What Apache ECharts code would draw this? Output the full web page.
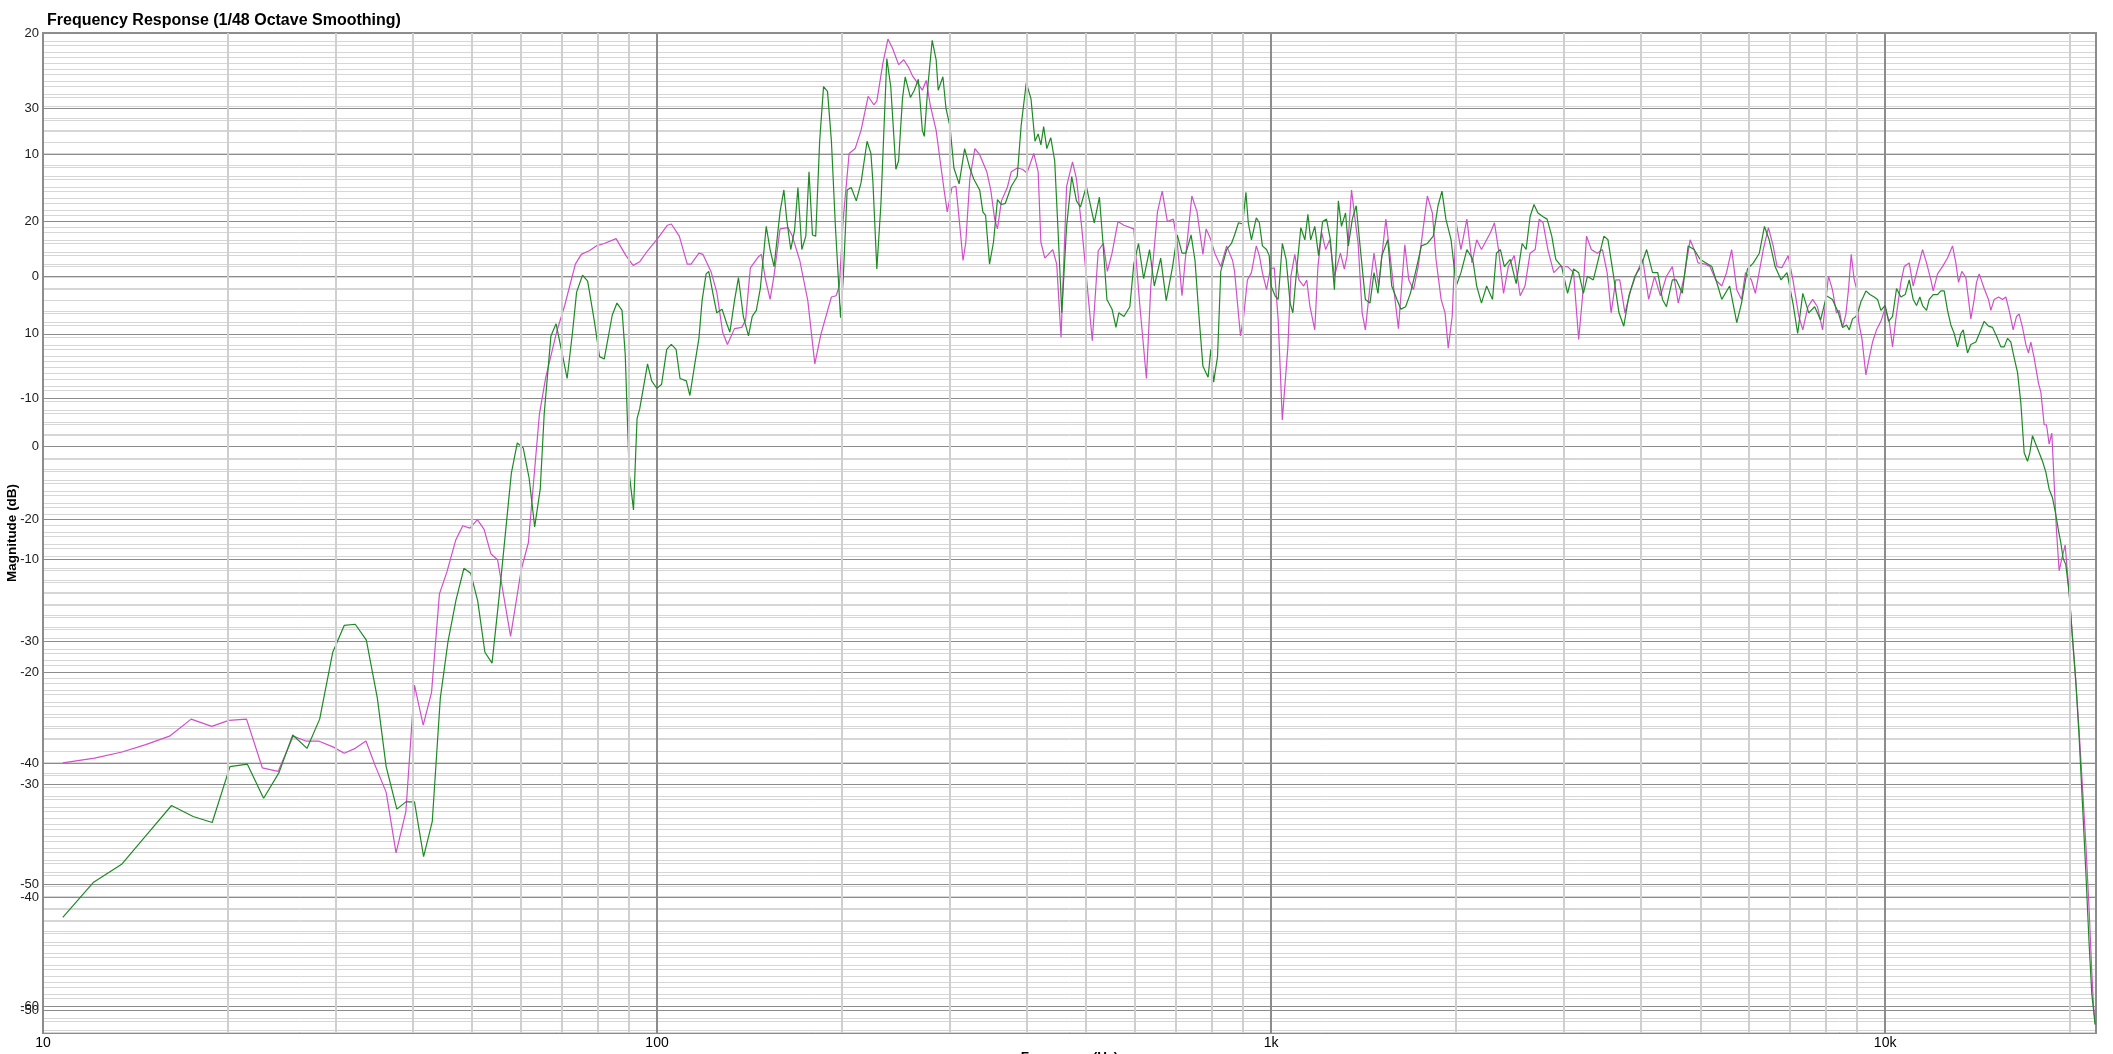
<!DOCTYPE html>
<html>
<head>
<meta charset="utf-8">
<title>Frequency Response</title>
<script src="https://cdn.jsdelivr.net/npm/echarts@6/dist/echarts.min.js"></script>
<style>
  html, body { margin: 0; padding: 0; background: #ffffff; }
  #chart { width: 2113px; height: 1054px; }
</style>
</head>
<body>
<div id="chart"></div>
<script>
// magenta trace (Hz / dB)
const magentaFreq = [
  10.77, 12.13, 13.45, 14.7, 16.07, 17.43, 18.83, 20.07, 21.45, 22.76, 24.15, 25.55, 26.79, 28.1, 29.72, 30.94,
  32.25, 33.57, 34.74, 36.21, 37.58, 38.99, 40.27, 41.61, 42.93, 44.22, 45.48, 46.99, 48.26, 49.57, 50.98, 52.28,
  53.62, 54.99, 57.74, 60.1, 61.72, 64.34, 65.88, 68.68, 70.73, 73.62, 75.28, 77.53, 79.63, 82.03, 85.76, 89,
  91.41, 93.73, 96.5, 100.2, 104, 105.5, 108.7, 112, 113.6, 117, 118.8, 122.4, 125.1, 127.9, 130.2, 133.7,
  137.4, 139.4, 141.9, 146.2, 147.9, 150.1, 152.8, 155.1, 158.6, 163.4, 165.8, 170.8, 176, 180.7, 184.8, 192.3,
  195.7, 198.1, 201, 205.5, 210.2, 214.9, 220.7, 225.4, 228, 233.2, 237.7, 242, 247.4, 252.2, 256.7, 260.5,
  266.4, 270.4, 274.4, 278.5, 284.8, 289.1, 293.4, 296.9, 302.2, 306.7, 311.3, 315, 318.3, 323.1, 329.3, 335.3,
  344.3, 349.5, 354.7, 358.4, 363.8, 371.9, 377.5, 386, 393.5, 400.5, 410.7, 417.5, 421.8, 428.1, 441, 447.6,
  454.9, 464.5, 474.9, 482, 491.4, 501.7, 511.5, 523, 533.2, 541.2, 550.8, 563.2, 575.9, 597.6, 611, 626.6,
  637, 653.1, 664.8, 677.8, 693, 703.4, 716, 724.6, 743, 757.5, 774.5, 783.8, 797.8, 809.7, 828, 846.5,
  865.6, 872, 891.6, 902.2, 915, 929, 946, 957, 968, 983, 997, 1012, 1027, 1043, 1065, 1077,
  1093, 1110, 1130, 1143, 1157, 1178, 1192, 1209, 1227, 1246, 1268, 1297, 1316, 1330, 1352, 1370,
  1386, 1407, 1424, 1449, 1471, 1497, 1519, 1538, 1561, 1589, 1612, 1651, 1676, 1706, 1736, 1762,
  1797, 1831, 1856, 1892, 1920, 1943, 1972, 2002, 2038, 2084, 2124, 2162, 2201, 2244, 2277, 2311,
  2346, 2391, 2434, 2489, 2545, 2591, 2641, 2692, 2733, 2773, 2823, 2887, 2951, 3040, 3109, 3169,
  3216, 3264, 3323, 3398, 3464, 3526, 3579, 3643, 3697, 3769, 3854, 3941, 4029, 4120, 4212, 4307,
  4404, 4503, 4604, 4708, 4813, 4885, 4958, 5092, 5184, 5300, 5419, 5517, 5624, 5733, 5836, 5923,
  6057, 6147, 6332, 6455, 6571, 6669, 6789, 6952, 7077, 7236, 7344, 7487, 7621, 7758, 7909, 8086,
  8207, 8330, 8419, 8525, 8632, 8719, 8806, 8906, 8984, 9052, 9165, 9304, 9421, 9539, 9683, 9842,
  10003, 10154, 10282, 10411, 10608, 10742, 10945, 11110, 11292, 11506, 11679, 11871, 11975, 12171, 12401, 12636,
  12875, 13037, 13168, 13333, 13535, 13791, 13965, 14087, 14229, 14498, 14735, 14865, 15052, 15298, 15529, 15724,
  15922, 16163, 16366, 16530, 16738, 16949, 17119, 17269, 17486, 17773, 17929, 18155, 18314, 18498, 18684, 18848,
  19013, 19204, 19397, 19641, 19814, 19988, 20188, 20442, 20699, 20960, 21223, 21490, 21706, 21842, 21979
];
const magentaDb = [
  -40.0, -39.6, -39.1, -38.5, -37.8, -36.4, -37.0, -36.5, -36.4, -40.4, -40.7, -37.8, -38.2, -38.2, -38.7, -39.2,
  -38.8, -38.2, -40.2, -42.4, -47.4, -44.0, -33.6, -36.9, -34.2, -26.1, -24.3, -21.7, -20.5, -20.7, -20.0, -20.8,
  -22.8, -23.3, -29.6, -24.1, -21.9, -11.3, -8.3, -4.5, -2.4, 1.0, 1.8, 2.1, 2.5, 2.7, 3.1, 1.7,
  0.9, 1.2, 2.1, 3.1, 4.2, 4.3, 3.3, 1.0, 1.0, 1.9, 1.8, 0.4, -1.3, -4.6, -5.6, -4.3,
  -4.2, -3.6, 0.7, 1.6, 1.8, -0.2, -1.9, 0.1, 3.9, 4.0, 3.4, 1.3, -2.0, -7.2, -4.8, -1.7,
  -1.6, -0.8, 4.7, 10.1, 10.5, 12.0, 14.8, 14.1, 14.4, 17.5, 19.5, 18.7, 17.4, 17.8, 17.2, 16.5,
  15.8, 15.3, 16.1, 14.1, 12.0, 9.5, 7.1, 5.3, 7.3, 7.4, 4.1, 1.3, 2.8, 8.0, 10.5, 10.0,
  8.6, 7.1, 4.7, 3.9, 6.2, 7.3, 8.6, 8.9, 8.8, 8.5, 10.1, 8.6, 2.8, 1.5, 2.2, 1.0,
  -5.0, 7.4, 9.4, 8.0, 4.1, -0.7, -5.3, 2.1, 2.7, 0.4, 1.9, 4.5, 4.2, 3.9, -2.3, -8.4,
  -0.8, 5.3, 7.0, 4.5, 4.7, 2.8, -1.6, 1.3, 6.6, 5.3, 1.8, 3.9, 3.0, 1.9, 0.8, 2.5,
  1.3, 0.4, -4.9, -3.3, -0.3, 0.3, 2.5, 1.7, 0.3, -1.1, 0.6, 0.7, -3.6, -11.8, -5.8, 0.0,
  1.8, -0.3, -0.8, -0.3, -2.5, -4.4, 0.8, 3.6, 2.2, 3.0, 0.0, 1.9, 0.6, 1.7, 7.1, 4.7,
  2.7, -3.0, -4.4, -0.8, 1.9, -0.8, 2.2, 4.7, 1.9, -1.6, -4.3, 2.6, -0.3, -1.1, 0.8, 3.3,
  6.6, 5.2, 1.4, -1.9, -3.0, -5.9, -3.3, 4.4, 2.2, 4.7, 1.1, 3.0, 2.2, 3.0, 3.6, 4.4,
  2.2, -1.4, 0.8, 1.7, -1.6, -0.8, 1.9, 2.2, 4.7, 4.4, 2.2, 0.3, 0.8, 0.8, 0.3, -5.2,
  -1.6, 3.3, 2.2, 1.9, 2.2, 0.3, -3.0, -0.3, -0.3, -3.0, -1.1, 0.3, 1.4, -1.9, 0.0, -1.6,
  0.0, 0.8, -2.2, 0.0, 3.0, 2.2, 1.1, 1.0, 0.8, -0.3, -0.8, 0.3, 2.2, -1.1, -1.9, 0.3,
  -0.3, -1.4, 2.2, 4.0, 2.5, 0.8, 0.7, 1.7, -0.3, -3.3, -4.4, -2.5, -1.9, -2.5, -4.4, 0.0,
  -1.1, -3.0, -2.8, -4.2, -3.1, -1.0, 1.8, -0.3, -1.0, -3.7, -5.1, -8.1, -6.7, -5.4, -4.4, -3.7,
  -2.6, -3.7, -5.8, -3.5, -0.5, 0.8, 1.1, -0.8, 0.6, 2.2, 1.1, -0.3, -1.2, 0.2, 0.8, 1.5,
  2.5, 1.1, -0.5, 0.4, -0.1, -3.5, -1.9, -0.5, 0.2, -1.0, -1.9, -2.8, -1.9, -1.7, -1.9, -1.7,
  -2.8, -4.4, -3.3, -3.1, -4.2, -5.6, -6.3, -5.4, -6.7, -8.8, -9.5, -12.2, -12.2, -13.8, -12.9, -17.0,
  -20.9, -24.2, -23.2, -22.1, -24.4, -26.7, -29.7, -33.3, -37.4, -42.0, -46.6, -52.1, -57.2, -59.9, -61.5
];

// green trace (Hz / dB)
const greenFreq = [
  10.77, 12.09, 13.45, 14.7, 16.19, 17.56, 18.86, 20.16, 21.52, 22.87, 24.23, 25.51, 26.92, 28.22, 29.64, 30.94,
  32.25, 33.62, 35.04, 36.21, 37.69, 38.99, 40.27, 41.67, 43.05, 44.36, 45.67, 47.06, 48.47, 49.71, 51.05, 52.44,
  53.86, 55.4, 57.9, 59.21, 60.54, 61.9, 63.2, 64.53, 65.5, 67.17, 68.48, 69.91, 71.38, 72.87, 73.96, 75.62,
  77.09, 79.06, 80.6, 82.03, 84.53, 86.04, 87.7, 88.75, 90.09, 91.55, 92.78, 93.7, 96.5, 98, 99.9, 101.7,
  103.7, 105.5, 107.4, 109, 111.6, 113.1, 115.3, 117, 118.4, 120.2, 121.4, 123.3, 125.1, 127.6, 129.9, 131.4,
  133.7, 135.7, 138.2, 140.9, 142.9, 145.1, 147.3, 150.6, 152.8, 155.1, 158.6, 160.9, 162.6, 165.1, 167.5, 169.6,
  172.1, 174.7, 176.8, 179.1, 181.3, 184, 186.7, 189.5, 192.3, 195.2, 199, 201, 204, 207.1, 211.1, 214.9,
  219.8, 223, 224.7, 228, 231.5, 236.7, 240.2, 244.9, 247.4, 251, 253.6, 258.6, 262.4, 266.4, 270.4, 272.4,
  276.4, 280.6, 284.8, 287, 292.1, 295.5, 300, 304.4, 310.4, 316.9, 323.1, 327.9, 335.3, 339.3, 342.8, 347.9,
  353.1, 358.4, 363.8, 369.2, 377.5, 386, 391.7, 399.3, 406.4, 412.6, 417.5, 421.8, 426.2, 431.3, 437.7, 444.2,
  449.5, 456.2, 464.5, 473.5, 482, 489.3, 500.2, 507.7, 515.2, 525.3, 532.3, 540.3, 550.8, 559, 564.9, 575.9,
  588.8, 597.6, 608.3, 620.1, 634, 645.4, 661, 674.9, 691.1, 703.4, 716, 726.6, 740.8, 751.8, 763.1, 774.5,
  789.6, 797.8, 806.1, 818.1, 828, 846.5, 861.8, 872, 885, 899, 910, 918, 929, 946, 957, 968,
  983, 993, 1000, 1015, 1027, 1043, 1058, 1074, 1085, 1101, 1118, 1135, 1148, 1160, 1178, 1195,
  1213, 1231, 1249, 1268, 1287, 1302, 1322, 1336, 1356, 1376, 1396, 1424, 1449, 1471, 1493, 1515,
  1549, 1572, 1603, 1627, 1656, 1686, 1718, 1757, 1797, 1837, 1870, 1898, 1926, 1964, 2002, 2038,
  2084, 2130, 2162, 2201, 2244, 2294, 2328, 2363, 2398, 2452, 2507, 2564, 2602, 2641, 2680, 2720,
  2773, 2815, 2865, 2908, 2973, 3040, 3109, 3169, 3226, 3274, 3348, 3423, 3484, 3537, 3605, 3686,
  3753, 3826, 3912, 4000, 4089, 4181, 4263, 4339, 4404, 4503, 4570, 4673, 4778, 4885, 4995, 5107,
  5222, 5340, 5419, 5582, 5733, 5836, 5967, 6102, 6239, 6360, 6474, 6620, 6769, 6921, 7077, 7204,
  7344, 7509, 7678, 7850, 8026, 8207, 8392, 8525, 8654, 8741, 8850, 8962, 9052, 9131, 9211, 9304,
  9445, 9599, 9720, 9842, 10003, 10129, 10282, 10437, 10608, 10782, 10945, 11110, 11250, 11391, 11506, 11679,
  11797, 11975, 12171, 12324, 12479, 12636, 12795, 12956, 13119, 13284, 13401, 13620, 13791, 14052, 14318, 14498,
  14735, 14958, 15184, 15433, 15627, 15823, 16022, 16224, 16428, 16634, 16843, 17055, 17205, 17378, 17596, 17818,
  18042, 18269, 18498, 18730, 18966, 19156, 19324, 19494, 19690, 19938, 20188, 20442, 20699, 20960, 21223, 21490,
  21706, 21979
];
const greenDb = [
  -52.7, -49.8, -48.3, -46.0, -43.5, -44.4, -44.9, -40.3, -40.1, -42.9, -40.8, -37.7, -38.8, -36.4, -30.9, -28.7,
  -28.6, -29.9, -34.7, -40.3, -43.8, -43.2, -43.2, -47.7, -44.8, -34.7, -30.0, -26.6, -24.0, -24.4, -26.7, -30.9,
  -31.8, -26.0, -16.2, -13.7, -14.1, -16.6, -20.6, -17.5, -11.3, -4.9, -3.9, -6.1, -8.4, -4.5, -1.3, 0.1,
  -0.4, -3.7, -6.6, -6.8, -3.2, -2.2, -2.8, -6.4, -16.2, -19.2, -11.7, -10.9, -7.2, -8.6, -9.2, -8.9,
  -6.0, -5.6, -6.0, -8.4, -8.6, -9.8, -7.1, -5.1, -2.0, 0.2, 0.4, -1.4, -3.0, -2.7, -3.9, -4.6,
  -2.0, -0.1, -3.3, -4.9, -3.3, -2.8, -1.0, 4.1, 2.2, 0.8, 5.3, 7.1, 4.7, 2.2, 3.8, 7.3,
  2.2, 3.3, 8.6, 3.4, 3.3, 11.1, 15.6, 15.2, 11.1, 4.1, -3.4, -0.2, 7.1, 7.3, 6.2, 7.7,
  11.1, 10.1, 7.7, 0.6, 5.9, 17.9, 15.6, 8.8, 9.5, 14.6, 16.4, 14.7, 15.3, 16.2, 12.0, 11.5,
  15.9, 19.4, 17.8, 15.3, 16.4, 13.8, 12.3, 8.9, 7.6, 10.5, 8.9, 8.0, 7.1, 5.3, 5.0, 1.0,
  2.8, 6.3, 5.9, 6.0, 7.4, 8.2, 12.4, 15.9, 14.6, 11.1, 11.7, 10.8, 12.3, 10.5, 11.4, 9.5,
  4.1, -3.0, 4.1, 8.2, 6.2, 5.7, 7.4, 5.9, 4.4, 6.5, 2.8, -1.9, -2.7, -4.2, -3.0, -3.3,
  -2.5, 1.0, 2.7, -0.2, 2.2, -0.8, 1.5, -2.0, 0.8, 3.4, 1.9, 1.9, 3.4, 1.3, -3.3, -7.4,
  -8.3, -6.0, -8.7, -6.6, 0.4, 2.2, 2.7, 3.4, 4.4, 4.3, 6.9, 4.4, 3.0, 4.8, 4.4, 2.5,
  2.2, 1.7, -0.8, -1.6, -1.9, 2.7, 1.4, -2.2, -3.0, 0.6, 4.0, 3.0, 5.1, 3.0, 4.1, 1.7,
  4.5, 4.7, 3.0, -1.1, 6.2, 4.1, 5.2, 2.5, 4.7, 5.8, 2.5, -1.9, -2.2, 0.3, -1.4, 1.7,
  3.0, -0.8, -1.9, -2.7, -2.5, -1.4, 0.3, 2.5, 2.7, 3.3, 5.8, 7.0, 4.7, 3.0, -0.8, 0.3,
  2.2, 1.4, -0.8, -2.2, -0.8, -1.9, 1.9, 2.2, 0.8, 1.4, -0.6, 2.7, 2.2, 4.9, 5.9, 5.2,
  4.9, 4.7, 3.3, 1.4, 0.8, -1.4, 0.6, 0.3, -1.4, 0.0, -0.3, 1.7, 3.3, 3.0, 0.3, -3.0,
  -4.1, -1.6, 0.0, 0.8, 2.2, 0.3, 0.3, -1.9, -2.5, -0.3, -0.3, -1.4, 2.5, 2.2, 1.4, 1.1,
  0.8, -0.8, -1.9, -0.8, -3.8, -2.2, 0.6, 1.1, 1.9, 4.1, 3.0, 0.8, -0.3, 0.3, -2.2, -4.7,
  -1.4, -3.0, -2.5, -3.6, -1.6, -1.9, -3.0, -4.2, -4.0, -4.4, -3.5, -3.3, -2.8, -2.1, -1.7, -1.2,
  -1.5, -1.7, -1.9, -2.8, -2.4, -3.7, -3.3, -1.0, -1.7, -1.5, -0.3, -1.9, -2.4, -1.7, -2.4, -2.8,
  -1.9, -1.5, -1.5, -1.2, -1.2, -2.8, -4.0, -4.7, -5.8, -4.7, -4.4, -6.3, -5.6, -5.4, -4.4, -3.7,
  -4.1, -4.2, -4.9, -5.8, -5.8, -5.1, -5.4, -6.7, -7.9, -10.4, -14.5, -15.2, -14.5, -13.1, -13.8, -14.5,
  -15.2, -16.1, -17.5, -18.2, -19.6, -20.9, -21.9, -23.2, -23.7, -26.0, -29.7, -33.3, -37.9, -43.4, -48.9, -54.9,
  -59.0, -61.5
];

// axis ticks
const freqDecades = [10, 100, 1000, 10000];
const freqMinorTicks = [
  20, 30, 40, 50, 60, 70, 80, 90,
  200, 300, 400, 500, 600, 700, 800, 900,
  2000, 3000, 4000, 5000, 6000, 7000, 8000, 9000,
  20000
];

const magentaData = magentaFreq.map((f, i) => [f, magentaDb[i]]);
const greenData = greenFreq.map((f, i) => [f, greenDb[i]]);

const chart = echarts.init(document.getElementById('chart'));

const labelFont = { fontFamily: 'Liberation Sans, Arial, sans-serif', fontSize: 13, color: '#1a1a1a' };
const nameFont = { fontFamily: 'Liberation Sans, Arial, sans-serif', fontSize: 13.5, fontWeight: 'bold', color: '#000' };
const decadeLabel = v => {
  const hit = freqDecades.find(d => Math.abs(d - v) / d < 1e-6);
  if (!hit) return '';
  return hit >= 1000 ? (hit / 1000) + 'k' : String(hit);
};
const tenLabel = v => (Math.abs(v - Math.round(v / 10) * 10) < 1e-6 ? String(Math.round(v)) : '');

function dbAxis(min, max, showName) {
  return {
    type: 'value',
    min: min,
    max: max,
    minInterval: 10,
    maxInterval: 10,
    position: 'left',
    name: showName ? 'Magnitude (dB)' : '',
    nameLocation: 'middle',
    nameGap: 24,
    nameMoveOverlap: false,
    nameTextStyle: nameFont,
    axisLine: { show: false },
    axisTick: { show: false },
    axisLabel: Object.assign({ margin: 4, formatter: tenLabel }, labelFont),
    splitLine: { show: true, lineStyle: { color: '#8c8c8c', width: 1.2 } },
    minorTick: { show: false, splitNumber: 10 },
    minorSplitLine: { show: true, lineStyle: { color: '#d6d6d6', width: 1 } }
  };
}

const option = {
  animation: false,
  backgroundColor: '#ffffff',
  title: {
    text: 'Frequency Response (1/48 Octave Smoothing)',
    left: 42,
    top: 8,
    textStyle: { fontFamily: 'Liberation Sans, Arial, sans-serif', fontSize: 16, fontWeight: 'bold', color: '#000' }
  },
  grid: {
    left: 43,
    right: 17,
    top: 33,
    bottom: 21,
    containLabel: false,
    outerBoundsMode: 'none',
    show: true,
    borderColor: '#8e8e8e',
    borderWidth: 2,
    backgroundColor: 'transparent'
  },
  xAxis: {
    type: 'log',
    logBase: 10,
    min: 10,
    max: 22050,
    name: 'Frequency (Hz)',
    nameLocation: 'middle',
    nameGap: 17,
    nameMoveOverlap: false,
    nameTextStyle: nameFont,
    axisLine: { show: false },
    axisTick: { show: false },
    axisLabel: Object.assign({ margin: 3, formatter: decadeLabel, showMaxLabel: false }, labelFont, { fontSize: 14, color: '#000' }),
    splitLine: { show: true, lineStyle: { color: '#8c8c8c', width: 2 } }
  },
  yAxis: [
    dbAxis(-62.2, 20, true),
    dbAxis(-52.04, 36.7, false)
  ],
  series: [
    {
      name: 'grid',
      type: 'line',
      data: [],
      z: 1,
      silent: true,
      markLine: {
        silent: true,
        symbol: ['none', 'none'],
        label: { show: false },
        lineStyle: { color: '#cfcfcf', width: 2, type: 'solid' },
        emphasis: { disabled: true },
        data: freqMinorTicks.map(f => ({ xAxis: f }))
      }
    },
    {
      name: 'Magenta',
      type: 'line',
      yAxisIndex: 0,
      data: magentaData,
      showSymbol: false,
      symbol: 'none',
      z: 3,
      lineStyle: { color: '#d04fcb', width: 1.2 }
    },
    {
      name: 'Green',
      type: 'line',
      yAxisIndex: 0,
      data: greenData,
      showSymbol: false,
      symbol: 'none',
      z: 4,
      lineStyle: { color: '#1d8a24', width: 1.2 }
    }
  ]
};

chart.setOption(option);
</script>
</body>
</html>
